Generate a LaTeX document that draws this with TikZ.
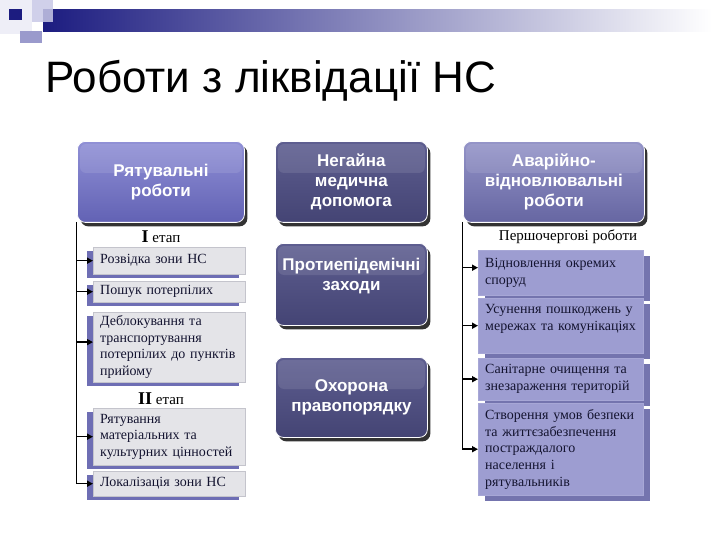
\documentclass[tikz,border=0pt]{standalone}
\usepackage{fontspec}
\setmainfont{Liberation Serif}
\setsansfont{Liberation Sans}
\usetikzlibrary{arrows.meta,shadows}
\definecolor{hdrdark}{HTML}{1C1C80}
\definecolor{sqlight}{HTML}{C8C8E6}
\definecolor{sqmid}{HTML}{9A9ACC}
\definecolor{sqpale}{HTML}{EEEEF7}
\definecolor{boxAtop}{HTML}{9090D6}
\definecolor{boxAbot}{HTML}{6262B4}
\definecolor{boxCtop}{HTML}{9494C8}
\definecolor{boxCbot}{HTML}{6666A2}
\definecolor{boxDtop}{HTML}{5E5E90}
\definecolor{boxDbot}{HTML}{444474}
\definecolor{grayfill}{HTML}{E4E4E8}
\definecolor{grayedge}{HTML}{C4C4CC}
\definecolor{shpurple}{HTML}{6E6EB4}
\definecolor{rfill}{HTML}{9D9DD1}
\definecolor{rshadow}{HTML}{7474AE}
\definecolor{txtdark}{HTML}{141430}
\begin{document}
\begin{tikzpicture}[x=1pt,y=-1pt,
  gloss/.style={rounded corners=8pt, draw=white, line width=0.8pt, text=white,
    font=\sffamily\bfseries\fontsize{17}{20}\selectfont, align=center, anchor=north west,
    general shadow={fill=black!80, shadow xshift=3pt, shadow yshift=-4pt}},
  glossA/.style={gloss, top color=boxAtop, bottom color=boxAbot},
  glossC/.style={gloss, top color=boxCtop, bottom color=boxCbot},
  glossD/.style={gloss, top color=boxDtop, bottom color=boxDbot},
  gbox/.style={anchor=north west, fill=grayfill, draw=grayedge, line width=0.4pt,
    text width=138pt, inner xsep=7pt, align=left, text=txtdark,
    font=\fontsize{14}{16.7}\selectfont, minimum width=152pt,
    general shadow={fill=shpurple, shadow xshift=-6pt, shadow yshift=-4pt}},
  rbox/.style={anchor=north west, fill=rfill, draw=rfill!90!white, line width=0.4pt,
    text width=151pt, inner xsep=7pt, align=left, text=txtdark,
    font=\fontsize{14}{16.7}\selectfont, minimum width=165pt,
    general shadow={fill=rshadow, shadow xshift=7pt, shadow yshift=-6pt}},
  lbl/.style={font=\fontsize{15}{18}\selectfont, text=black},
  vline/.style={line width=0.9pt, draw=black},
  arr/.style={-{Triangle[length=6pt,width=6pt]}, line width=1.5pt}]
\useasboundingbox (0,0) rectangle (720,540);
% header decoration
\fill[sqpale] (0,0) rectangle (32,34);
\shade[left color=hdrdark, right color=white] (43,10) rectangle (712,32);
\fill[sqlight, opacity=0.85] (32,0) rectangle (53,22);
\fill[sqmid] (20,31) rectangle (42,43);
\fill[hdrdark] (9,9) rectangle (22,20);
% title
\node[anchor=base west, inner sep=0pt, font=\sffamily\fontsize{44}{50}\selectfont] (title) at (45,93) {Роботи з ліквідації НС};
% main glossy boxes
\node[glossA, minimum width=167pt, minimum height=81pt] (b1) at (77,141) {Рятувальні\\роботи};
\node[glossD, minimum width=152pt, minimum height=81pt] (b2) at (275,141) {Негайна\\медична\\допомога};
\node[glossC, minimum width=181pt, minimum height=81pt] (b3) at (463,141) {Аварійно-\\відновлювальні\\роботи};
\node[glossD, minimum width=152pt, minimum height=82pt] (b4) at (275,243) {Протиепідемічні\\заходи\\\mbox{}};
\node[glossD, minimum width=152pt, minimum height=80pt] (b5) at (275,357) {Охорона\\правопорядку};
\foreach \b in {b1,b2,b3,b4,b5}
  \fill[white, opacity=0.10, rounded corners=6pt] ([shift={(3,3)}]\b.north west) rectangle ([shift={(-3,32)}]\b.north east);
% labels
\node[lbl] (et1) at (161,237) {{\bfseries\fontsize{18}{18}\selectfont I} етап};
\node[lbl] (et2) at (161,399) {{\bfseries\fontsize{18}{18}\selectfont II} етап};
\node[lbl] (pr) at (568,237) {Першочергові роботи};
% left gray boxes
\node[gbox, minimum height=27pt] (gA) at (93,247) {Розвідка зони НС};
\node[gbox, minimum height=21pt] (gB) at (93,281) {Пошук потерпілих};
\node[gbox, minimum height=68pt] (gC) at (93,312) {Деблокування та\\транспортування\\потерпілих до пунктів\\прийому};
\node[gbox, minimum height=57pt] (gD) at (93,408) {Рятування\\матеріальних та\\культурних цінностей};
\node[gbox, minimum height=25pt] (gE) at (93,471) {Локалізація зони НС};
% right boxes
\node[rbox, minimum height=45pt] (r1) at (478,250) {Відновлення окремих\\споруд};
\node[rbox, minimum height=55pt] (r2) at (478,298) {Усунення пошкоджень у\\мережах та комунікаціях\\\mbox{}};
\node[rbox, minimum height=42pt] (r3) at (478,358) {Санітарне очищення та\\знезараження територій};
\node[rbox, minimum height=92pt] (r4) at (478,403) {Створення умов безпеки\\та життєзабезпечення\\постраждалого\\населення і\\рятувальників};
% connector end points
\coordinate (cC) at ([yshift=5pt]gC.west);
\coordinate (c1) at ([yshift=5pt]r1.west);
% connectors left
\coordinate (lt) at (76,222);
\draw[vline] (lt) -- (lt |- gE.west);
\draw[arr] (lt |- gA.west) -- (gA.west);
\draw[arr] (lt |- gB.west) -- (gB.west);
\draw[arr] (lt |- cC) -- (cC);
\draw[arr] (lt |- gD.west) -- (gD.west);
\draw[arr] (lt |- gE.west) -- (gE.west);
% connectors right
\coordinate (rt) at (462,222);
\draw[vline] (rt) -- (rt |- r4.west);
\draw[arr] (rt |- c1) -- (c1);
\draw[arr] (rt |- r2.west) -- (r2.west);
\draw[arr] (rt |- r3.west) -- (r3.west);
\draw[arr] (rt |- r4.west) -- (r4.west);
\end{tikzpicture}
\end{document}
